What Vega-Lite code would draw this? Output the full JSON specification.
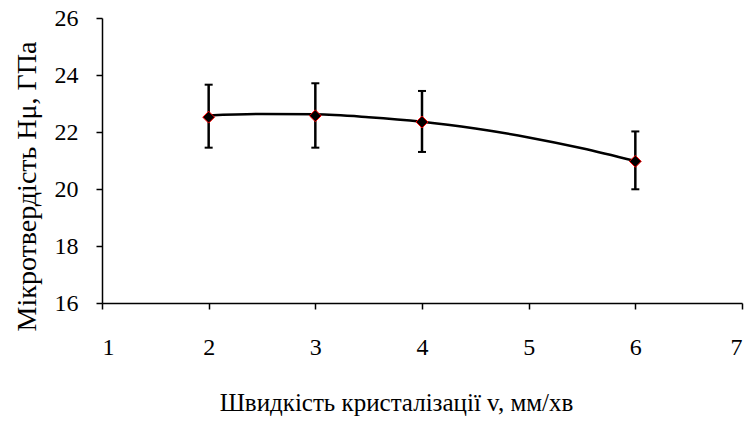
{
  "$schema": "https://vega.github.io/schema/vega-lite/v6.json",
  "width": 640,
  "height": 285,
  "autosize": {"type": "none"},
  "padding": {"left": 102, "top": 18, "right": 6, "bottom": 120},
  "background": "white",
  "config": {
    "view": {"stroke": null},
    "font": "Liberation Serif",
    "axisX": {"labelFontSize": 24, "labelFont": "Liberation Serif"},
    "axisY": {"labelFontSize": 24, "labelFont": "Liberation Serif"}
  },
  "datasets": {
    "points": [
      {"v": 2, "h": 22.52, "lo": 21.45, "hi": 23.66},
      {"v": 3, "h": 22.57, "lo": 21.45, "hi": 23.71},
      {"v": 4, "h": 22.35, "lo": 21.30, "hi": 23.44},
      {"v": 6, "h": 20.97, "lo": 19.99, "hi": 22.02}
    ],
    "trend": [
      {"v": 2, "h": 22.58},
      {"v": 2.5, "h": 22.63},
      {"v": 3, "h": 22.62},
      {"v": 3.5, "h": 22.52},
      {"v": 4, "h": 22.36},
      {"v": 4.5, "h": 22.12},
      {"v": 5, "h": 21.81},
      {"v": 5.5, "h": 21.43},
      {"v": 6, "h": 20.98}
    ]
  },
  "layer": [
    {
      "data": {"name": "trend"},
      "mark": {"type": "line", "color": "black", "strokeWidth": 2.5, "interpolate": "monotone"},
      "encoding": {
        "x": {
          "field": "v", "type": "quantitative",
          "scale": {"domain": [1, 7], "nice": false, "zero": false},
          "axis": {
            "values": [1, 2, 3, 4, 5, 6, 7],
            "format": "d",
            "grid": false,
            "domainColor": "black", "domainWidth": 1.5,
            "tickColor": "black", "tickWidth": 1.5, "tickSize": 6,
            "labelColor": "black", "labelFont": "Liberation Serif", "labelFontSize": 24,
            "labelPadding": 26,
            "encode": {"labels": {"update": {"fontSize": {"value": 24}, "font": {"value": "Liberation Serif"}}}},
            "title": "Швидкість кристалізації v, мм/хв",
            "titleColor": "black", "titleFont": "Liberation Serif", "titleFontSize": 25, "titleFontWeight": "normal",
            "titleX": 294,
            "titleY": 99,
            "titleBaseline": "middle"
          }
        },
        "y": {
          "field": "h", "type": "quantitative",
          "scale": {"domain": [16, 26], "nice": false, "zero": false},
          "axis": {
            "values": [16, 18, 20, 22, 24, 26],
            "format": "d",
            "grid": false,
            "domainColor": "black", "domainWidth": 1.5,
            "tickColor": "black", "tickWidth": 1.5, "tickSize": 6,
            "labelColor": "black", "labelFont": "Liberation Serif", "labelFontSize": 24,
            "labelPadding": 18,
            "encode": {"labels": {"update": {"fontSize": {"value": 24}, "font": {"value": "Liberation Serif"}}}},
            "title": "Мікротвердість Hμ, ГПа",
            "titleColor": "black", "titleFont": "Liberation Serif", "titleFontSize": 28, "titleFontWeight": "normal",
            "titleX": -75,
            "titleY": 168,
            "titleBaseline": "middle",
            "titleAngle": -90
          }
        }
      }
    },
    {
      "data": {"name": "points"},
      "mark": {"type": "rule", "color": "black", "strokeWidth": 2.5},
      "encoding": {
        "x": {"field": "v", "type": "quantitative"},
        "y": {"field": "lo", "type": "quantitative"},
        "y2": {"field": "hi"}
      }
    },
    {
      "data": {"name": "points"},
      "mark": {"type": "tick", "color": "black", "orient": "horizontal", "size": 8, "thickness": 2, "opacity": 1},
      "encoding": {
        "x": {"field": "v", "type": "quantitative"},
        "y": {"field": "lo", "type": "quantitative"}
      }
    },
    {
      "data": {"name": "points"},
      "mark": {"type": "tick", "color": "black", "orient": "horizontal", "size": 8, "thickness": 2, "opacity": 1},
      "encoding": {
        "x": {"field": "v", "type": "quantitative"},
        "y": {"field": "hi", "type": "quantitative"}
      }
    },
    {
      "data": {"name": "points"},
      "mark": {"type": "point", "shape": "diamond", "filled": true, "fill": "black", "stroke": "red", "strokeWidth": 1, "size": 140, "opacity": 1},
      "encoding": {
        "x": {"field": "v", "type": "quantitative"},
        "y": {"field": "h", "type": "quantitative"}
      }
    }
  ]
}
